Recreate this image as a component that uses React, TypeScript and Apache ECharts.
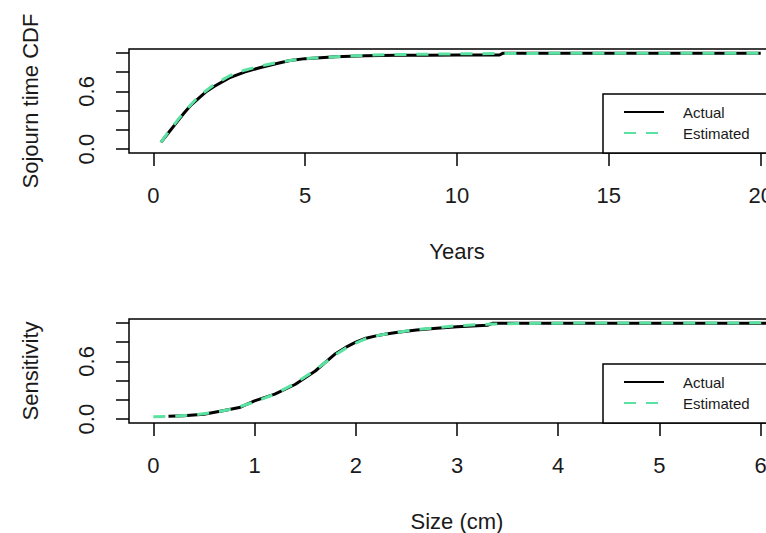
import React, { useEffect, useRef } from "react";
import * as echarts from "echarts";

// Panel 1: Sojourn time CDF vs Years
const yearsActualX = [0.25, 0.5, 0.75, 1, 1.25, 1.5, 1.75, 2, 2.5, 3, 3.5, 4, 4.5, 5, 5.5, 6, 7, 8, 9, 10, 11.4, 11.5, 14, 17, 20];
const yearsActualY = [0.07, 0.17, 0.27, 0.37, 0.46, 0.53, 0.6, 0.65, 0.74, 0.8, 0.845, 0.885, 0.92, 0.94, 0.95, 0.96, 0.97, 0.975, 0.975, 0.977, 0.978, 0.995, 0.995, 0.995, 0.995];
const yearsEstX = [0.25, 0.5, 0.75, 1, 1.5, 2, 2.5, 3, 3.5, 4, 4.5, 5, 6, 7, 8, 10, 12, 15, 20];
const yearsEstY = [0.07, 0.18, 0.28, 0.38, 0.55, 0.67, 0.76, 0.82, 0.86, 0.895, 0.92, 0.94, 0.96, 0.975, 0.983, 0.99, 0.994, 0.996, 0.997];

// Panel 2: Sensitivity vs Size (cm)
const sizeActualX = [0.15, 0.3, 0.5, 0.7, 0.85, 1.0, 1.2, 1.4, 1.6, 1.8, 1.9, 2.0, 2.1, 2.2, 2.3, 2.4, 2.6, 2.8, 3.0, 3.2, 3.3, 3.35, 6.1];
const sizeActualY = [0.03, 0.035, 0.05, 0.09, 0.12, 0.19, 0.26, 0.36, 0.5, 0.68, 0.745, 0.8, 0.84, 0.865, 0.885, 0.9, 0.925, 0.945, 0.96, 0.97, 0.975, 0.995, 0.995];
const sizeEstX = [0.0, 0.2, 0.4, 0.6, 0.8, 1.0, 1.2, 1.4, 1.6, 1.8, 1.9, 2.0, 2.1, 2.2, 2.3, 2.4, 2.6, 2.8, 3.0, 3.3, 3.6, 4.0, 5.0, 6.1];
const sizeEstY = [0.025, 0.03, 0.045, 0.07, 0.11, 0.18, 0.26, 0.37, 0.51, 0.67, 0.735, 0.79, 0.835, 0.865, 0.885, 0.9, 0.93, 0.95, 0.97, 0.985, 0.993, 0.997, 0.999, 1.0];

const yTicks = [0, 0.2, 0.4, 0.6, 0.8, 1.0];
const yLabels = [0, 0.6];
const yearsTicks = [0, 5, 10, 15, 20];
const sizeTicks = [0, 1, 2, 3, 4, 5, 6];

const seriesNames = ["Actual", "Estimated"];
const GREEN = "#5be2a2";
const FONT = "'Liberation Sans', Arial, sans-serif";
const TXT = "#1a1a1a";

const zip = (xs: number[], ys: number[]) => xs.map((x, i) => [x, ys[i]]);

export default function App() {
  const ref = useRef<HTMLDivElement>(null);
  useEffect(() => {
    if (!ref.current) return;
    const chart = echarts.init(ref.current, null, { renderer: "svg" });

    const grid = (top: number) => ({
      left: 129,
      top,
      width: 656,
      height: 104,
      show: true,
      borderColor: "#000",
      borderWidth: 1.5,
      backgroundColor: "transparent",
    });

    const xAxis = (gridIndex: number, min: number, max: number, ticks: number[], name: string) => ({
      type: "value",
      gridIndex,
      min,
      max,
      name,
      nameLocation: "middle",
      nameGap: 87,
      nameTextStyle: { fontFamily: FONT, fontSize: 22, color: TXT },
      axisLine: { show: false, onZero: false },
      splitLine: { show: false },
      axisTick: {
        show: true,
        inside: false,
        length: 13,
        customValues: ticks,
        lineStyle: { color: "#000", width: 1.5 },
      },
      axisLabel: {
        show: true,
        customValues: ticks,
        margin: 31,
        fontFamily: FONT,
        fontSize: 22,
        color: TXT,
        showMinLabel: true,
        showMaxLabel: true,
        formatter: (v: number) => String(v),
      },
    });

    const yAxis = (gridIndex: number, name: string) => ({
      type: "value",
      gridIndex,
      min: -0.04,
      max: 1.04,
      name,
      nameLocation: "middle",
      nameRotate: 90,
      nameGap: 88,
      nameTextStyle: { fontFamily: FONT, fontSize: 22, color: TXT },
      axisLine: { show: false, onZero: false },
      splitLine: { show: false },
      axisTick: {
        show: true,
        inside: false,
        length: 13,
        customValues: yTicks,
        lineStyle: { color: "#000", width: 1.5 },
      },
      axisLabel: {
        show: true,
        customValues: yLabels,
        rotate: 90,
        margin: 32,
        fontFamily: FONT,
        fontSize: 22,
        color: TXT,
        formatter: (v: number) => v.toFixed(1),
      },
    });

    const legend = (top: number) => ({
      show: true,
      orient: "vertical",
      left: 603,
      top,
      data: seriesNames,
      selectedMode: false,
      itemWidth: 40,
      itemHeight: 14,
      itemGap: 5,
      padding: [10, 37, 12, 20],
      borderColor: "#000",
      borderWidth: 1.5,
      borderRadius: 0,
      backgroundColor: "#fff",
      itemStyle: { color: "transparent", borderWidth: 0, opacity: 0 },
      textStyle: {
        fontFamily: FONT,
        fontSize: 15,
        lineHeight: 16,
        color: TXT,
        padding: [0, 0, 0, 14],
      },
    });

    const line = (name: string, xi: number, data: number[][], dashed: boolean) => ({
      type: "line",
      name,
      xAxisIndex: xi,
      yAxisIndex: xi,
      data,
      symbol: "none",
      showSymbol: false,
      smooth: false,
      silent: true,
      lineStyle: dashed
        ? { color: GREEN, width: 3, type: [12, 10] }
        : { color: "#000", width: 3, type: "solid" },
      itemStyle: { color: dashed ? GREEN : "#000" },
      z: dashed ? 3 : 2,
    });

    chart.setOption({
      animation: false,
      backgroundColor: "#fff",
      grid: [grid(49), grid(319)],
      xAxis: [
        xAxis(0, -0.8, 20.8, yearsTicks, "Years"),
        xAxis(1, -0.24, 6.24, sizeTicks, "Size (cm)"),
      ],
      yAxis: [yAxis(0, "Sojourn time CDF"), yAxis(1, "Sensitivity")],
      legend: [legend(94), legend(364)],
      series: [
        line("Actual", 0, zip(yearsActualX, yearsActualY), false),
        line("Estimated", 0, zip(yearsEstX, yearsEstY), true),
        line("Actual", 1, zip(sizeActualX, sizeActualY), false),
        line("Estimated", 1, zip(sizeEstX, sizeEstY), true),
      ],
    });

    return () => chart.dispose();
  }, []);

  return (
    <div
      style={{
        position: "fixed",
        left: 0,
        top: 0,
        width: 766,
        height: 533,
        overflow: "hidden",
        background: "#fff",
      }}
    >
      <div ref={ref} style={{ width: 820, height: 533 }} />
    </div>
  );
}
